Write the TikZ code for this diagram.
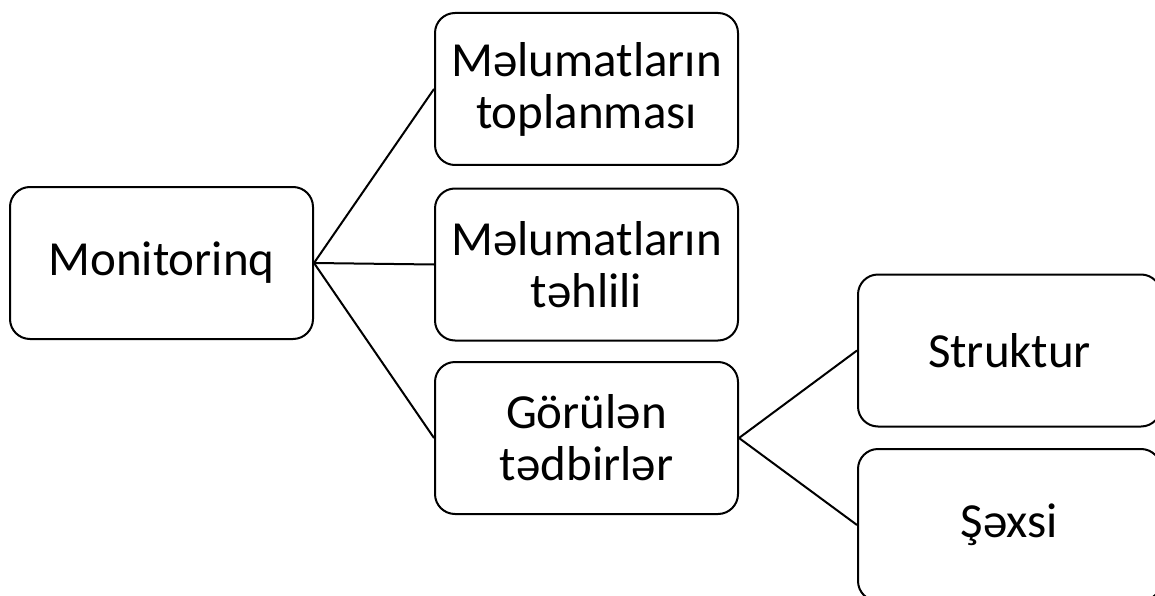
\documentclass[tikz,border=0pt]{standalone}
\usepackage{fontspec}
\setmainfont{Carlito}

\begin{document}
\begin{tikzpicture}[x=1pt,y=-1pt,
  box/.style={draw, line width=2pt, rounded corners=20pt, minimum width=303pt,
    minimum height=152pt, inner sep=0pt, align=center,
    font=\fontsize{49}{52}\selectfont},
  link/.style={line width=2pt}]
\clip (0,0) rectangle (1155,596);
\useasboundingbox (0,0) rectangle (1155,596);

\node[box] (mon) at (161.5,263) {Monitorinq};

\node[box] (top) at (586.5,89) {Məlumatların\\toplanması};
\node[box] (teh) at (586.5,264.5) {Məlumatların\\təhlili};
\node[box] (gor) at (586.5,438) {Görülən\\tədbirlər};

\node[box] (str) at (1009.5,350.5) {Struktur};
\node[box] (sax) at (1009.5,525) {Şəxsi};

\draw[link] (mon.east) -- (top.west);
\draw[link] (mon.east) -- (teh.west);
\draw[link] (mon.east) -- (gor.west);

\draw[link] (gor.east) -- (str.west);
\draw[link] (gor.east) -- (sax.west);
\end{tikzpicture}
\end{document}
